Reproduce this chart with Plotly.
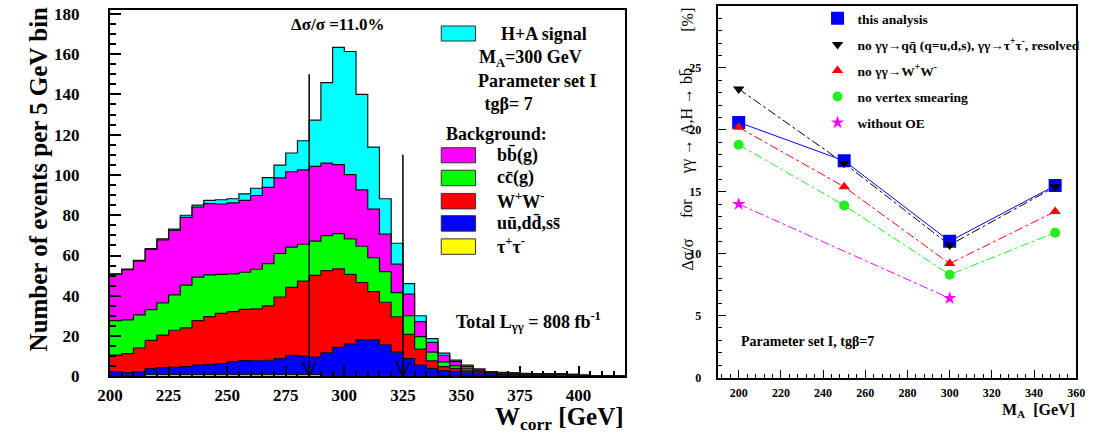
import numpy as np
import plotly.graph_objects as go

# ---------------- Left panel data: 5 GeV bins, 200 -> 420 GeV ----------------
bin_lo = 200
bin_width = 5
n_bins = 44

tau = [0.3, 0.3, 0.3, 0.9, 0.9, 0.9, 0.9, 0.9, 0.9, 0.9, 0.9, 0.9, 0.9, 0.9, 0.9, 0.9, 0.9, 0.9,
       0.3, 0.3, 0.3, 0.3, 0.3, 0.3, 0.3, 0.3, 0.3, 0.3, 0.1, 0.1, 0.1, 0.1, 0.1, 0.1, 0.1, 0.1,
       0.1, 0.1, 0.1, 0.1, 0.1, 0.1, 0.1, 0.1]
uds = [2.1, 1.6, 2.1, 2.9, 3.4, 3.6, 3.9, 4.7, 5.0, 5.5, 6.4, 6.9, 6.8, 7.1, 7.9, 9.5, 9.2, 8.7,
       11.4, 14.1, 15.8, 17.8, 17.8, 15.4, 11.7, 8.5, 5.3, 3.7, 2.8, 2.4, 2.0, 1.5, 1.1, 0.9, 0.8,
       0.7, 0.4, 0.3, 0.2, 0.2, 0.1, 0.1, 0.0, 0.0]
ww = [8.2, 9.4, 11.7, 14.1, 16.2, 18.4, 19.3, 22.1, 23.8, 24.9, 24.8, 25.5, 25.8, 27.0, 30.6, 33.8,
      37.2, 40.5, 40.8, 39.0, 34.5, 28.5, 24.0, 21.1, 17.6, 12.1, 8.0, 3.7, 1.9, 1.5, 0.6, 0.6, 0.4,
      0.3, 0.3, 0.3, 0.7, 0.7, 0.7, 0.5, 0.2, 0.1, 0.1, 0.0]
cc = [17.1, 16.8, 16.4, 15.2, 16.0, 17.6, 21.2, 21.6, 20.7, 19.3, 18.8, 18.4, 19.7, 21.0, 21.6, 20.0,
      18.3, 17.1, 17.4, 17.5, 17.7, 18.0, 16.8, 15.2, 12.0, 9.2, 6.1, 4.3, 2.4, 1.3, 1.0, 0.5, 0.4,
      0.4, 0.3, 0.2, 0.1, 0.1, 0.1, 0.1, 0.1, 0.0, 0.0, 0.0]
bb = [22.9, 24.9, 26.7, 29.9, 31.3, 32.0, 33.6, 34.7, 35.4, 35.0, 35.2, 35.7, 36.6, 37.8, 37.6, 37.4,
      36.9, 37.1, 36.0, 34.2, 31.9, 28.0, 24.1, 18.6, 14.1, 10.7, 7.5, 4.9, 3.3, 2.0, 1.2, 0.5, 0.2,
      0.2, 0.2, 0.1, 0.1, 0.1, 0.1, 0.1, 0.1, 0.0, 0.0, 0.0]
signal = [0.3, 0.3, 0.4, 0.4, 0.5, 0.6, 1.1, 1.0, 1.6, 2.1, 2.1, 3.2, 3.6, 4.9, 6.3, 9.3, 14.5, 22.9,
          40.0, 58.3, 61.1, 47.4, 30.8, 17.6, 10.4, 5.3, 2.9, 1.8, 1.0, 0.8, 0.7, 0.5, 0.2, 0.1, 0.1,
          0.1, 0.0, 0.0, 0.0, 0.0, 0.0, 0.0, 0.0, 0.0]

window = [285, 325]          # mass window marked by arrows
arrow_tops = [150, 110]      # heights of the arrow lines
x_ticks_left = [200, 225, 250, 275, 300, 325, 350, 375, 400]

# ---------------- Right panel data ----------------
ma = [200, 250, 300, 350]
this_analysis = [20.6, 17.5, 11.0, 15.5]
no_qq = [23.3, 17.3, 10.7, 15.4]
no_ww = [20.2, 15.4, 9.2, 13.4]
no_vtx = [18.8, 13.9, 8.3, 11.7]
ma_oe = [200, 300]
without_oe = [14.0, 6.4]

# ---------------- helpers ----------------
W, H = 1098, 446
def px(x): return x / W
def py(y): return 1 - y / H

SERIF = "Liberation Serif"
BLACK = "black"

fig = go.Figure()

# ---- Left: stacked step histogram ----
edges = bin_lo + bin_width * np.arange(n_bins + 1)
layers = [("τ+τ-", tau, "#FFFF00"), ("uu,dd,ss", uds, "#0000FF"), ("W+W-", ww, "#FF0000"),
          ("cc(g)", cc, "#00FF00"), ("bb(g)", bb, "#FF00FF"), ("H+A signal", signal, "#00FFFF")]
for name, vals, col in layers:
    yv = list(vals) + [vals[-1]]
    fig.add_trace(go.Scatter(x=edges, y=yv, mode="lines", name=name,
                             line=dict(shape="hv", color="#111111", width=1.2),
                             stackgroup="hist", fillcolor=col, showlegend=False,
                             xaxis="x", yaxis="y", hoverinfo="skip"))

# ---- Right: lines (no legend) + markers (legend) ----
right_series = [
    ("this analysis", ma, this_analysis, "#0000FF", "solid", "square", 13),
    ("no γγ→qq̄ (q=u,d,s), γγ→τ<sup>+</sup>τ<sup>-</sup>, resolved", ma, no_qq, "#000000", "dashdot", "triangle-down", 10),
    ("no γγ→W<sup>+</sup>W<sup>-</sup>", ma, no_ww, "#FF0000", "dashdot", "triangle-up", 10),
    ("no vertex smearing", ma, no_vtx, "#22EE22", "dashdot", "circle", 10),
    ("without OE", ma_oe, without_oe, "#FF00FF", "dashdot", "star", 10),
]
for name, xs, ys, col, dash, sym, size in right_series:
    fig.add_trace(go.Scatter(x=xs, y=ys, mode="lines", line=dict(color=col, width=1, dash=dash),
                             showlegend=False, xaxis="x2", yaxis="y2", hoverinfo="skip"))
for i, (name, xs, ys, col, dash, sym, size) in enumerate(right_series):
    fig.add_trace(go.Scatter(x=xs, y=ys, mode="markers", name=name, legendgroup=f"g{i}",
                             marker=dict(color=col, symbol=sym, size=size, line=dict(width=0)),
                             xaxis="x2", yaxis="y2", hoverinfo="skip"))

shapes = []
# arrows marking the window
for xw, top in zip(window, arrow_tops):
    shapes.append(dict(type="line", xref="x", yref="y", x0=xw, x1=xw, y0=0, y1=top,
                       line=dict(color=BLACK, width=1.5)))
    shapes.append(dict(type="path", xref="x", yref="y",
                       path=f"M {xw-3},7.5 L {xw},0 L {xw+3},7.5",
                       line=dict(color=BLACK, width=1.5)))

# left legend boxes (paper coords)
leg_boxes = [(21.7, 37.3, "#00FFFF"), (147.7, 163.3, "#FF00FF"), (171, 187, "#00FF00"),
             (195, 211, "#FF0000"), (218, 234, "#0000FF"), (242, 258, "#FFFF00")]
for y0, y1, col in leg_boxes:
    shapes.append(dict(type="rect", xref="paper", yref="paper", x0=px(437), x1=px(472),
                       y0=py(y1), y1=py(y0), fillcolor=col, line=dict(color="#333333", width=1)))

def ann(text, x, y, size, xanchor="left", angle=0, bold=True, yanchor="middle"):
    return dict(text=(f"<b>{text}</b>" if bold else text), x=px(x), y=py(y), xref="paper", yref="paper",
                showarrow=False, xanchor=xanchor, yanchor=yanchor, textangle=angle,
                font=dict(family=SERIF, size=size, color=BLACK))

annotations = [
    ann("Number of events per 5 GeV bin", 26, 180, 25, xanchor="center", angle=-90),
    ann("W<sub>corr</sub> [GeV]", 626, 428, 25, xanchor="right"),
    ann("Δσ/σ =11.0%", 332, 20, 17, xanchor="center"),
    ann("H+A signal", 496, 30, 18),
    ann("M<sub>A</sub>=300 GeV", 473, 55, 18),
    ann("Parameter set I", 472, 79, 18),
    ann(" tgβ= 7", 475, 102, 18),
    ann("Background:", 440, 133, 18),
    ann("bb̄(g)", 492, 155, 18),
    ann("cc̄(g)", 492, 179, 18),
    ann("W<sup>+</sup>W<sup>-</sup>", 492, 202, 18),
    ann("uū,dd̄,ss̄", 492, 226, 18),
    ann("τ<sup>+</sup>τ<sup>-</sup>", 492, 249, 18),
    ann("Total L<sub>γγ</sub> = 808 fb<sup>-1</sup>", 450, 328, 18),
    # right panel y-axis title pieces
    ann("Δσ/σ", 688, 258, 16, xanchor="center", angle=-90, bold=False),
    ann("for", 688, 211, 16, xanchor="center", angle=-90, bold=False),
    ann("γγ → A,H → bb̄", 688, 120, 16, xanchor="center", angle=-90, bold=False),
    ann("[%]", 688, 15, 16, xanchor="center", angle=-90, bold=False),
    ann("M<sub>A</sub>  [GeV]", 1086, 420, 16, xanchor="right"),
    ann("Parameter set I, tgβ=7", 741, 348, 14),
]

tickfont_l = dict(family=SERIF, size=17, color=BLACK, weight="bold")
tickfont_r = dict(family=SERIF, size=12, color=BLACK, weight="bold")

fig.update_layout(
    width=W, height=H, margin=dict(l=0, r=0, t=0, b=0),
    paper_bgcolor="white", plot_bgcolor="white",
    shapes=shapes, annotations=annotations,
    xaxis=dict(domain=[px(99), px(625)], range=[200, 420], anchor="y",
               tickmode="array", tickvals=x_ticks_left, ticks="inside", ticklen=10, tickwidth=1.5,
               tickcolor=BLACK, minor=dict(tick0=200, dtick=5, ticks="inside", ticklen=5, tickcolor=BLACK),
               showline=True, linecolor=BLACK, linewidth=2, mirror=True, showgrid=False,
               zeroline=False, tickfont=tickfont_l, ticklabelstandoff=2),
    yaxis=dict(domain=[1 - 384.3 / H, 1 - 5 / H], range=[0, 182], anchor="x",
               dtick=20, tick0=0, ticks="inside", ticklen=11, tickwidth=1.5, tickcolor=BLACK,
               minor=dict(dtick=5, ticks="inside", ticklen=6, tickcolor=BLACK),
               showline=True, linecolor=BLACK, linewidth=2, mirror=True, showgrid=False,
               zeroline=False, tickfont=tickfont_l, ticklabelstandoff=25),
    xaxis2=dict(domain=[px(719), px(1085)], range=[190, 360], anchor="y2",
                dtick=20, tick0=200, ticks="inside", ticklen=8, tickcolor=BLACK,
                minor=dict(dtick=4, tick0=200, ticks="inside", ticklen=4, tickcolor=BLACK),
                showline=True, linecolor=BLACK, linewidth=2, mirror=True, showgrid=False,
                zeroline=False, tickfont=tickfont_r, ticklabelstandoff=3),
    yaxis2=dict(domain=[1 - 385.5 / H, 1 - 1 / H], range=[0, 30], anchor="x2",
                dtick=5, tick0=0, ticks="inside", ticklen=8, tickcolor=BLACK,
                minor=dict(dtick=1, ticks="inside", ticklen=4, tickcolor=BLACK),
                showline=True, linecolor=BLACK, linewidth=2, mirror=True, showgrid=False,
                zeroline=False, tickfont=tickfont_r, ticklabelstandoff=12),
    legend=dict(x=px(821), y=py(-2), xanchor="left", yanchor="top", bgcolor="rgba(0,0,0,0)",
                font=dict(family=SERIF, size=13.5, color=BLACK, weight="bold"),
                tracegroupgap=5.5, itemsizing="trace"),
)

fig.write_html("out.html")
